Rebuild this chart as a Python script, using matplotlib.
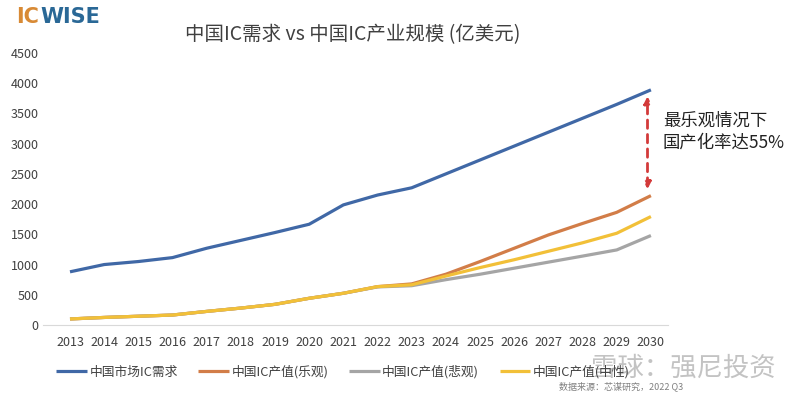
import matplotlib

matplotlib.use("Agg")
import matplotlib.pyplot as plt

plt.rcParams["font.family"] = ["Noto Sans CJK SC", "DejaVu Sans"]

years = list(range(2013, 2031))
demand = [880, 1000, 1050, 1115, 1270, 1400, 1530, 1667, 1987, 2150, 2270,
          2500, 2730, 2960, 3190, 3420, 3650, 3890]
optimistic = [100, 125, 145, 165, 225, 280, 342, 442, 525, 635, 680,
              840, 1050, 1270, 1490, 1680, 1864, 2140]
pessimistic = [100, 125, 145, 165, 225, 280, 342, 442, 525, 630, 650,
               750, 840, 940, 1040, 1140, 1242, 1480]
neutral = [100, 125, 145, 165, 225, 280, 342, 442, 525, 635, 665,
           810, 950, 1080, 1220, 1360, 1518, 1794]
labels = ["中国市场IC需求", "中国IC产值(乐观)", "中国IC产值(悲观)", "中国IC产值(中性)"]
yticks = [0, 500, 1000, 1500, 2000, 2500, 3000, 3500, 4000, 4500]

COL = ["#4068A6", "#D27D48", "#A5A5A5", "#F2C038"]

fig = plt.figure(figsize=(8.0, 3.93), dpi=100)
ax = fig.add_axes([43 / 800, 1 - 325 / 393, 625 / 800, (325 - 53) / 393])

for vals, lab, c in zip([demand, optimistic, pessimistic, neutral], labels, COL):
    ax.plot(years, vals, color=c, lw=2.3, label=lab, solid_capstyle="butt")

ax.set_xlim(2012.21, 2030.5)
ax.set_ylim(0, 4500)
ax.set_yticks(yticks)
ax.set_xticks(years)
ax.tick_params(length=0, labelsize=9, colors="#404040")
ax.tick_params(axis="y", pad=3)
ax.tick_params(axis="x", pad=8)
for s in ["top", "right", "left"]:
    ax.spines[s].set_visible(False)
ax.spines["bottom"].set_color("#D9D9D9")

# double arrow between demand and optimistic output in 2030
ax.annotate("", xy=(2029.9, 3830), xytext=(2029.9, 2200),
            arrowprops=dict(arrowstyle="<|-|>", color="#D33A3A", lw=2.0,
                            linestyle=(0, (3, 2.2)), mutation_scale=10))
ax.text(2030.35, 3200, "最乐观情况下\n国产化率达55%", fontsize=12.5, color="#222222",
        ha="left", va="center", linespacing=1.25, clip_on=False)

fig.text(0.441, 1 - 35 / 393, "中国IC需求 vs 中国IC产业规模 (亿美元)", fontsize=14,
         color="#404040", ha="center", va="center")

# logo
fig.text(16 / 800, 1 - 17 / 393, "IC", fontsize=15, fontweight="bold", color="#D88A35",
         ha="left", va="center", family="DejaVu Sans")
fig.text(40 / 800, 1 - 17 / 393, "WISE", fontsize=15, fontweight="bold", color="#2A6896",
         ha="left", va="center", family="DejaVu Sans")

fig.legend(loc="center", bbox_to_anchor=(343 / 800, 1 - 372 / 393), ncol=4, frameon=False,
           fontsize=9.2, handlelength=2.4, handletextpad=0.2, columnspacing=1.6,
           labelcolor="#404040")

fig.text(683 / 800, 1 - 386 / 393, "数据来源：芯谋研究，2022 Q3", fontsize=6.5, style="italic",
         color="#808080", ha="right", va="center")
fig.text(776 / 800, 1 - 368 / 393, "雪球：强尼投资", fontsize=19, color="#BDBDBD",
         ha="right", va="center", alpha=0.9)

fig.savefig("out.png", dpi=100)
